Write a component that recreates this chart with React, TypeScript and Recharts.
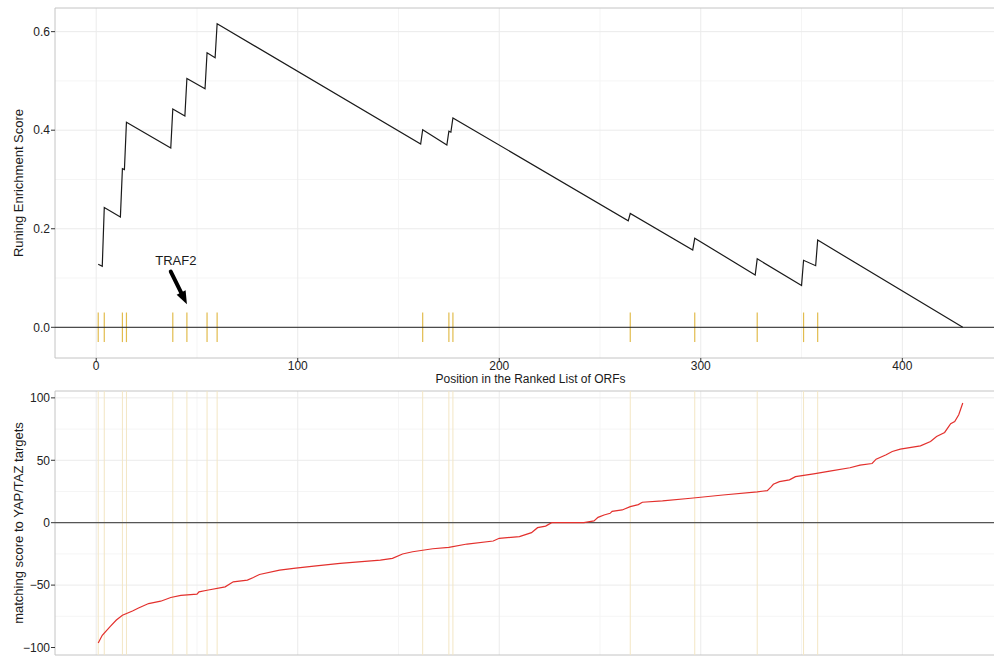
import React from "react";
import {
  LineChart,
  Line,
  XAxis,
  YAxis,
  CartesianGrid,
  ReferenceLine,
  ReferenceArea,
  ReferenceDot,
} from "recharts";

// positions of the gene-set hits in the ranked list
const hitPositions = [1, 4, 13, 15, 38, 45, 55, 60, 162, 175, 177, 265, 297, 328, 351, 358];

// running enrichment score, vertices
const esPositions = [1, 3, 4, 12, 13, 14, 15, 37, 38, 44, 45, 54, 55, 59, 60, 161, 162, 174, 175, 176, 177, 264, 265, 296, 297, 327, 328, 350, 351, 357, 358, 430];
const esValues = [0.128, 0.124, 0.243, 0.224, 0.322, 0.32, 0.416, 0.364, 0.443, 0.429, 0.505, 0.484, 0.557, 0.547, 0.616, 0.372, 0.401, 0.37, 0.398, 0.396, 0.425, 0.216, 0.231, 0.157, 0.181, 0.106, 0.139, 0.085, 0.136, 0.125, 0.177, 0.0];

// matching score (sorted), vertices
const scorePositions = [1, 3, 7, 10, 13, 18, 21, 26, 32, 37, 42, 50, 51, 55, 64, 68, 75, 78, 81, 91, 99, 108, 121, 141, 147, 152, 157, 167, 175, 184, 197, 200, 210, 216, 219, 223, 226, 242, 247, 249, 252, 255, 256, 261, 265, 269, 271, 281, 295, 311, 328, 333, 335, 336, 339, 344, 347, 356, 364, 374, 379, 385, 387, 392, 395, 399, 409, 414, 417, 421, 424, 426, 428, 430];
const scoreValues = [-96.4, -90.2, -83, -78, -74.1, -70.7, -68.3, -64.8, -62.9, -59.9, -58.3, -57.3, -55.4, -54.1, -51.4, -47.4, -46, -43.9, -41.5, -38, -36.4, -34.8, -32.6, -30, -28.6, -25.1, -23.3, -20.9, -19.8, -17.1, -14.7, -12.5, -11.2, -8, -4, -2.7, 0, 0, 1.4, 4.3, 6.2, 7.5, 9.1, 10.2, 12.9, 14.5, 16.4, 17.4, 19.6, 22.2, 24.7, 25.7, 28.9, 30.8, 32.9, 34.3, 36.9, 39.1, 41.3, 44, 46.1, 47.4, 50.9, 54.4, 57, 58.9, 61.6, 65.1, 69.1, 72.3, 79.3, 81.1, 86.5, 95.9];

const xTicks = [0, 100, 200, 300, 400];
const xMinor = [50, 150, 250, 350, 450];
const esTicks = [0, 0.2, 0.4, 0.6];
const esMinor = [0.1, 0.3, 0.5];
const scoreTicks = [-100, -50, 0, 50, 100];
const scoreMinor = [-75, -25, 25, 75];

const X_DOMAIN: [number, number] = [-20.45, 451.45];
const ES_DOMAIN: [number, number] = [-0.0623, 0.648];
const SCORE_DOMAIN: [number, number] = [-106, 105.5];

const esData = esPositions.map((pos, i) => ({ pos, es: esValues[i] }));
const scoreData = scorePositions.map((pos, i) => ({ pos, score: scoreValues[i] }));

const font = "'Liberation Sans', Arial, Helvetica, sans-serif";
const tickStyle = { fill: "#222", fontSize: 12, fontFamily: font };

function yTitle(text: string) {
  return {
    content: (p: any) => {
      const vb = p.viewBox || {};
      const cx = 18;
      const cy = vb.y + vb.height / 2;
      return (
        <text
          x={cx}
          y={cy}
          transform={`rotate(-90 ${cx} ${cy})`}
          textAnchor="middle"
          dominantBaseline="central"
          fontSize={13}
          fontFamily={font}
          fill="#1a1a1a"
        >
          {text}
        </text>
      );
    },
  };
}

function Arrow(props: any) {
  const { x1, y1, x2, y2 } = props;
  const dx = x2 - x1;
  const dy = y2 - y1;
  const len = Math.hypot(dx, dy) || 1;
  const ux = dx / len;
  const uy = dy / len;
  const head = 13;
  const half = 5;
  const bx = x2 - ux * head;
  const by = y2 - uy * head;
  const pts = `${x2},${y2} ${bx - uy * half},${by + ux * half} ${bx + uy * half},${by - ux * half}`;
  return (
    <g>
      <line x1={x1} y1={y1} x2={bx + ux * 2} y2={by + uy * 2} stroke="#000" strokeWidth={4} strokeLinecap="round" />
      <polygon points={pts} fill="#000" />
    </g>
  );
}

export default function App() {
  return (
    <div
      style={{
        position: "absolute",
        left: 0,
        top: 0,
        width: 994,
        height: 656,
        overflow: "hidden",
        background: "#fff",
      }}
    >
      {/* running enrichment score */}
      <div style={{ position: "absolute", left: 0, top: 0 }}>
        <LineChart width={1007} height={386} data={esData} margin={{ top: 8, right: 1, bottom: 0, left: 0 }}>
          <CartesianGrid stroke="#F5F5F5" horizontalValues={esMinor} verticalValues={xMinor} />
          <CartesianGrid stroke="#EBEBEB" horizontalValues={esTicks} verticalValues={xTicks} />
          <XAxis
            dataKey="pos"
            type="number"
            domain={X_DOMAIN}
            ticks={xTicks}
            allowDataOverflow
            height={28}
            axisLine={false}
            tickLine={{ stroke: "#333" }}
            tickSize={3}
            tickMargin={0}
            tick={tickStyle}
            label={{
              content: (p: any) => {
                const vb = p.viewBox || {};
                return (
                  <text
                    x={vb.x + vb.width / 2}
                    y={vb.y + 24.5}
                    textAnchor="middle"
                    fontSize={12}
                    fontFamily={font}
                    fill="#1a1a1a"
                  >
                    Position in the Ranked List of ORFs
                  </text>
                );
              },
            }}
          />
          <YAxis
            type="number"
            domain={ES_DOMAIN}
            ticks={esTicks}
            allowDataOverflow
            width={55}
            axisLine={false}
            tickLine={{ stroke: "#333" }}
            tickSize={4}
            tickMargin={1}
            tick={tickStyle}
            tickFormatter={(v: number) => v.toFixed(1)}
            label={yTitle("Runing Enrichment Score")}
          />
          <ReferenceArea
            x1={X_DOMAIN[0]}
            x2={X_DOMAIN[1]}
            y1={ES_DOMAIN[0]}
            y2={ES_DOMAIN[1]}
            fill="none"
            stroke="#C4C4C4"
            ifOverflow="visible"
          />
          {hitPositions.map((h) => (
            <ReferenceLine
              key={`t${h}`}
              segment={[
                { x: h, y: -0.03 },
                { x: h, y: 0.03 },
              ]}
              stroke="#E2BC4E"
              strokeWidth={1.2}
            />
          ))}
          <ReferenceLine y={0} stroke="#222" strokeWidth={1} />
          <ReferenceLine
            segment={[
              { x: 37, y: 0.113 },
              { x: 45, y: 0.047 },
            ]}
            shape={Arrow}
          />
          <ReferenceDot
            x={39.5}
            y={0.136}
            r={0}
            shape={(p: any) => (
              <text
                x={p.cx}
                y={p.cy}
                textAnchor="middle"
                dominantBaseline="central"
                fontSize={13}
                fontFamily={font}
                fill="#1a1a1a"
              >
                TRAF2
              </text>
            )}
          />
          <Line
            type="linear"
            dataKey="es"
            stroke="#1a1a1a"
            strokeWidth={1.2}
            dot={false}
            isAnimationActive={false}
          />
        </LineChart>
      </div>

      {/* matching score panel */}
      <div style={{ position: "absolute", left: 0, top: 386 }}>
        <LineChart width={1007} height={270} data={scoreData} margin={{ top: 5, right: 1, bottom: 1, left: 0 }}>
          <CartesianGrid stroke="#F5F5F5" horizontalValues={scoreMinor} verticalValues={xMinor} />
          <CartesianGrid stroke="#EBEBEB" horizontalValues={scoreTicks} verticalValues={xTicks} />
          <XAxis dataKey="pos" type="number" domain={X_DOMAIN} ticks={xTicks} allowDataOverflow hide />
          <YAxis
            type="number"
            domain={SCORE_DOMAIN}
            ticks={scoreTicks}
            allowDataOverflow
            width={55}
            axisLine={false}
            tickLine={{ stroke: "#333" }}
            tickSize={4}
            tickMargin={1}
            tick={tickStyle}
            tickFormatter={(v: number) => (v < 0 ? `\u2212${Math.abs(v)}` : `${v}`)}
            label={yTitle("matching score to YAP/TAZ targets")}
          />
          <ReferenceArea
            x1={X_DOMAIN[0]}
            x2={X_DOMAIN[1]}
            y1={SCORE_DOMAIN[0]}
            y2={SCORE_DOMAIN[1]}
            fill="none"
            stroke="#C4C4C4"
            ifOverflow="visible"
          />
          {hitPositions.map((h) => (
            <ReferenceLine key={`v${h}`} x={h} stroke="#F3E6C4" strokeWidth={1} />
          ))}
          <ReferenceLine y={0} stroke="#555" strokeWidth={1.3} />
          <Line
            type="linear"
            dataKey="score"
            stroke="#E3302D"
            strokeWidth={1.2}
            dot={false}
            isAnimationActive={false}
          />
        </LineChart>
      </div>
    </div>
  );
}
